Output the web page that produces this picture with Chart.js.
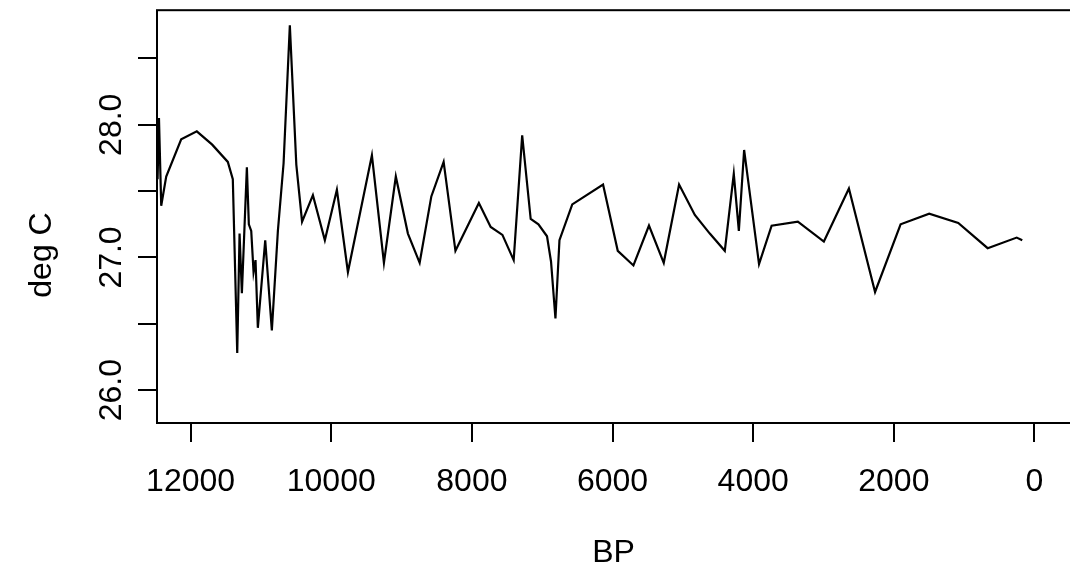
<!DOCTYPE html>
<html><head><meta charset="utf-8">
<script src="https://cdn.jsdelivr.net/npm/chart.js@4.4.1/dist/chart.umd.min.js"></script>
<style>html,body{margin:0;padding:0;background:#fff;}#wrap{width:1070px;height:573px;}</style>
</head><body><div id="wrap"><canvas id="c" width="1070" height="573"></canvas></div>
<script>
// Years before present (x) and temperature in deg C (y)
const yearsBP = [12470,12450,12418,12347,12134,11912,11693,11471,11400,11337,11304,11271,11200,11172,11138,11105,11077,11044,10939,10845,10759,10678,10589,10497,10415,10261,10091,9920,9763,9422,9251,9082,8910,8743,8577,8402,8234,7901,7733,7566,7406,7285,7164,7054,6932,6875,6812,6755,6573,6135,5926,5703,5482,5272,5054,4830,4617,4404,4276,4204,4129,3917,3738,3365,2995,2639,2267,1904,1497,1084,666,253,174];
const tempC = [27.59,28.05,27.39,27.61,27.89,27.95,27.85,27.72,27.59,26.28,27.18,26.73,27.68,27.25,27.20,26.89,26.98,26.47,27.13,26.45,27.20,27.71,28.75,27.70,27.27,27.47,27.13,27.51,26.89,27.77,26.96,27.61,27.18,26.96,27.46,27.72,27.05,27.41,27.23,27.17,26.98,27.92,27.29,27.25,27.16,26.97,26.54,27.13,27.40,27.55,27.05,26.94,27.24,26.96,27.55,27.32,27.18,27.05,27.63,27.20,27.81,26.95,27.24,27.27,27.12,27.52,26.74,27.25,27.33,27.26,27.07,27.15,27.13];
const xTickValues = [0,2000,4000,6000,8000,10000,12000];
const yTickValues = [26.0,26.5,27.0,27.5,28.0,28.5];
const yLabelValues = [26.0,27.0,28.0];
const xTitle = 'BP';
const yTitle = 'deg C';

const FONT = '"Liberation Sans", Arial, Helvetica, sans-serif';
const FS = 32;

const framePlugin = {
  id: 'frame',
  afterDraw(chart) {
    const {ctx, chartArea: a, scales: {y}} = chart;
    ctx.save();
    ctx.strokeStyle = '#000';
    ctx.lineWidth = 2;
    ctx.strokeRect(a.left, a.top, a.right - a.left + 4, a.bottom - a.top);
    ctx.fillStyle = '#000';
    ctx.font = FS + 'px ' + FONT;
    ctx.textAlign = 'center';
    ctx.textBaseline = 'alphabetic';
    yLabelValues.forEach(v => {
      const py = y.getPixelForValue(v);
      ctx.save();
      ctx.translate(a.left - 36, py);
      ctx.rotate(-Math.PI / 2);
      ctx.fillText(v.toFixed(1), 0, 0);
      ctx.restore();
    });
    // y-axis title
    ctx.save();
    ctx.translate(51, 255);
    ctx.rotate(-Math.PI / 2);
    ctx.fillText(yTitle, 0, 0);
    ctx.restore();
    ctx.restore();
  }
};

new Chart(document.getElementById('c'), {
  type: 'line',
  data: {
    datasets: [{
      data: yearsBP.map((x, i) => ({x: x, y: tempC[i]})),
      borderColor: '#000',
      borderWidth: 2.2,
      pointRadius: 0,
      tension: 0,
      fill: false
    }]
  },
  options: {
    responsive: false,
    animation: false,
    devicePixelRatio: 1,
    layout: {padding: {top: 8, right: 0, left: 0, bottom: 0}},
    plugins: {legend: {display: false}, tooltip: {enabled: false}},
    scales: {
      x: {
        type: 'linear',
        reverse: true,
        min: -505,
        max: 12478,
        afterBuildTicks(s) { s.ticks = xTickValues.map(v => ({value: v})); },
        afterFit(s) { s.height = 150; },
        grid: {drawOnChartArea: false, drawTicks: true, tickLength: 19, color: '#000', lineWidth: 2},
        border: {display: false},
        ticks: {color: '#000', font: {family: FONT, size: FS}, padding: 21, maxRotation: 0, autoSkip: false,
                callback: v => String(v)},
        title: {display: true, text: xTitle, color: '#000', font: {family: FONT, size: FS}, padding: {top: 0, bottom: 1}}
      },
      y: {
        type: 'linear',
        min: 25.753,
        max: 28.863,
        afterBuildTicks(s) { s.ticks = yTickValues.map(v => ({value: v})); },
        afterFit(s) { s.width = 157; },
        grid: {drawOnChartArea: false, drawTicks: true, tickLength: 19, color: '#000', lineWidth: 2},
        border: {display: false},
        ticks: {display: true, callback: () => ''},
        title: {display: false, text: yTitle}
      }
    }
  },
  plugins: [framePlugin]
});
</script></body></html>
